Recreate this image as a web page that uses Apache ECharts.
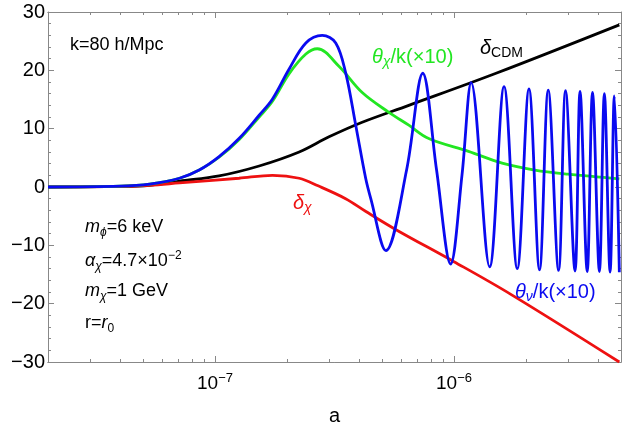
<!DOCTYPE html>
<html><head><meta charset="utf-8">
<script src="https://cdn.jsdelivr.net/npm/echarts@6/dist/echarts.min.js"></script>
<style>html,body{margin:0;padding:0;background:#fff}#c{width:623px;height:431px}</style>
</head><body><div id="c"></div>
<script>
// a values and curve values
const blueA = [2e-8,3.99e-8,5.32e-8,7.10e-8,8.59e-8,1.04e-7,1.26e-7,1.53e-7,1.74e-7,2.04e-7,2.40e-7,2.81e-7,3.20e-7,3.52e-7,3.88e-7,4.27e-7,4.48e-7,5.19e-7,6.34e-7,7.40e-7,8.45e-7,9.68e-7,1.08e-6,1.18e-6,1.41e-6,1.62e-6,1.84e-6,2.06e-6,2.28e-6,2.48e-6,2.74e-6,2.93e-6,3.21e-6,3.37e-6,3.61e-6,3.80e-6,4.06e-6,4.26e-6,4.50e-6,4.69e-6,4.92e-6];
const blueV = [0,0.15,0.5,1.5,2.9,5.2,8.3,12.3,15.1,20.2,24.7,26,24.7,19.6,10.6,1.5,-1.9,-10.9,3,19.5,3,-13.2,2,17.9,-13.7,17.2,-14.0,16.8,-14.2,16.6,-14.3,16.5,-14.4,16.4,-14.5,16.2,-14.5,16,-14.6,15.6,-14.6];
const greenA = [2e-8,3.99e-8,5.32e-8,7.10e-8,8.59e-8,1.04e-7,1.26e-7,1.53e-7,1.74e-7,2.04e-7,2.40e-7,2.68e-7,3.30e-7,4.13e-7,5.34e-7,6.47e-7,7.84e-7,1.15e-6,1.59e-6,2.18e-6,3.0e-6,4.92e-6];
const greenV = [0,0.15,0.5,1.5,2.9,5.1,8.1,12.0,14.7,19.4,22.8,23.7,20.7,16.2,12.8,10.6,8.3,6.1,4.1,2.9,2.2,1.4];
const blackA = [2e-8,3.99e-8,5.32e-8,7.10e-8,1.04e-7,1.53e-7,2.25e-7,3.0e-7,4.13e-7,6.47e-7,1.5e-6,4.92e-6];
const blackV = [0,0.1,0.3,1.0,1.9,3.6,6.0,8.6,11.1,14.0,19.5,27.8];
const redA = [2e-8,3.99e-8,5.32e-8,7.10e-8,1.26e-7,1.74e-7,2.25e-7,2.7e-7,3.52e-7,4.28e-7,5.77e-7,1.0e-6,1.73e-6,4.92e-6];
const redV = [0,0.1,0.3,0.7,1.5,2.0,1.5,0.2,-2.0,-4.2,-7.4,-12.8,-18.4,-30];
const xMajor = [1e-7,1e-6];
const yTicks = [-30,-20,-10,0,10,20,30];
const aMin = 2e-8, aMax = 5e-6;

const L = Math.log10;
const pair = (A,V)=>A.map((a,i)=>[L(a),V[i]]);
const minors = [];
for (let e=-8;e<=-6;e++) for (let m=2;m<=9;m++){const a=m*Math.pow(10,e); if(a>aMin&&a<aMax) minors.push(L(a));}
const majors = xMajor.map(L);
const chart = echarts.init(document.getElementById('c'));
const F = 'Liberation Sans, Arial, sans-serif';
const ln = (name,A,V,color)=>({name,type:'line',data:pair(A,V),smooth:0.35,showSymbol:false,lineStyle:{color,width:2.8},z:name==='blue'?5:3});
const G='#888';
const xa = (pos,withLabel,vals,len)=>({type:'value',min:L(aMin),max:L(aMax),position:pos,
    name:withLabel?'a':'',nameLocation:'middle',nameGap:44,nameTextStyle:{fontSize:20,fontFamily:F,color:'#000'},
    axisLine:{onZero:false,lineStyle:{color:G}},splitLine:{show:false},
    axisTick:{show:true,inside:true,length:len,customValues:vals,lineStyle:{color:G}},
    axisLabel:withLabel?{show:true,customValues:majors,fontSize:19,fontFamily:F,color:'#000',margin:10,
      formatter:v=>'10{s|−'+(-Math.round(v))+'}',rich:{s:{fontSize:13,fontFamily:F,color:'#000',padding:[0,0,10,0]}}}:{show:false}});
const ya = (pos,withLabel)=>({type:'value',min:-30,max:30,interval:10,position:pos,
    axisLine:{show:true,onZero:false,lineStyle:{color:G}},axisTick:{inside:true,length:6,lineStyle:{color:G}},
    minorTick:{show:true,splitNumber:5,length:3,lineStyle:{color:G}},splitLine:{show:false},
    axisLabel:withLabel?{fontSize:20,fontFamily:F,color:'#000',margin:3,formatter:v=>yTicks.includes(v)?(v<0?'−'+(-v):String(v)):''}:{show:false}});
const R = {
  i:{fontStyle:'italic',fontSize:20,fontFamily:F},
  sub:{fontStyle:'italic',fontSize:14,fontFamily:F,padding:[11,0,0,0]},
  subn:{fontSize:14,fontFamily:F,padding:[11,0,0,0]},
  sup:{fontSize:14,fontFamily:F,padding:[0,0,10,0]},
  n:{fontSize:20,fontFamily:F}
};
const R2 = {};
for (const k in R) R2[k]=Object.assign({},R[k],{fontSize:R[k].fontSize-2});
const colR = (c,base)=>{const o={};for(const k in base){o[k]=Object.assign({},base[k],{fill:c,color:c});}return o;};
const lab = (v,x,y,rich)=>({type:'text',left:x,top:y,z:10,style:{text:v,fontFamily:F,fontSize:18,fill:'#000',rich}});
chart.setOption({
  animation:false,
  grid:{left:48,right:2,top:12,bottom:65},
  xAxis:[xa('bottom',true,majors,6),xa('bottom',false,minors,3),xa('top',false,majors,6),xa('top',false,minors,3)],
  yAxis:[ya('left',true),ya('right',false)],
  series:[ln('black',blackA,blackV,'#000'),ln('red',redA,redV,'#ee1111'),ln('green',greenA,greenV,'#22e622'),ln('blue',blueA,blueV,'#0a0af0')],
  graphic:[
    lab('k=80 h/Mpc',70,36,{}),
    lab('{i|m}{sub|ϕ}{n|=6 keV}',85,218,R2),
    lab('{i|α}{sub|χ}{n|=4.7×10}{sup|−2}',85,250,R2),
    lab('{i|m}{sub|χ}{n|=1 GeV}',85,282,R2),
    lab('{n|r=}{i|r}{subn|0}',85,314,R2),
    lab('{i|θ}{sub|χ}{n|/k(×10)}',372,47,colR('#22e622',R)),
    lab('{i|δ}{subn|CDM}',480,38,colR('#000',R)),
    lab('{i|δ}{sub|χ}',293,193,colR('#ee1111',R)),
    lab('{i|θ}{sub|ν}{n|/k(×10)}',515,282,colR('#0a0af0',R))
  ]
});
</script></body></html>
